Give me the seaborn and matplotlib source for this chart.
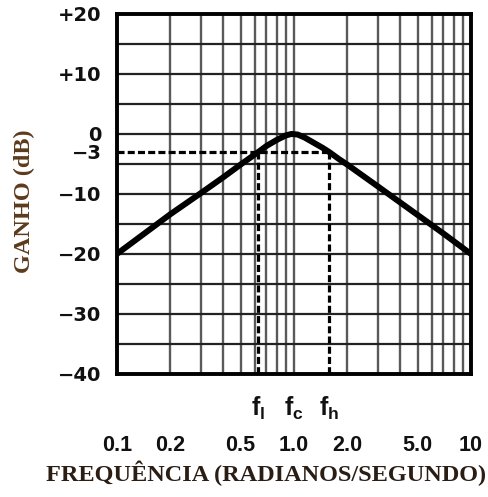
import numpy as np
import pandas as pd
import matplotlib
matplotlib.use("Agg")
import matplotlib.pyplot as plt
import seaborn as sns

# ---- data ----
freq = [0.1, 0.2, 0.3, 0.4, 0.5, 0.63, 0.7, 0.8, 0.9, 0.97, 1.05, 1.15, 1.3, 1.45, 1.58, 1.8, 2.0, 3.0, 5.0, 7.0, 10.0]
gain = [-20.0, -13.4, -9.8, -7.2, -5.1, -3.0, -2.0, -1.0, -0.25, 0.0, -0.1, -0.6, -1.5, -2.3, -3.0, -4.2, -5.1, -8.8, -13.5, -16.6, -20.0]

f_points = [0.63, 1.0, 1.58]
f_names = ["l", "c", "h"]
cut_db = -3

yticks = [20, 10, 0, -3, -10, -20, -30, -40]
ytick_labels = ["+20", "+10", "0", "\u22123", "\u221210", "\u221220", "\u221230", "\u221240"]
xticks = [0.1, 0.2, 0.5, 1.0, 2.0, 5.0, 10]
xtick_labels = ["0.1", "0.2", "0.5", "1.0", "2.0", "5.0", "10"]
hgrid = [-35, -30, -25, -20, -15, -10, -5, 0, 5, 10, 15]
vgrid = [0.2, 0.3, 0.4, 0.5, 0.6, 0.7, 0.8, 0.9, 1, 2, 3, 4, 5, 6, 7, 8, 9]

sns.set_theme(style="white")
plt.rcParams["font.family"] = ["Liberation Sans", "DejaVu Sans"]
plt.rcParams["mathtext.fontset"] = "custom"
plt.rcParams["mathtext.rm"] = "Liberation Sans:bold"
plt.rcParams["mathtext.bf"] = "Liberation Sans:bold"
plt.rcParams["mathtext.it"] = "Liberation Sans:bold"

fig = plt.figure(figsize=(4.89, 4.97), dpi=100)
ax = fig.add_axes([0.239, 0.2475, 0.724, 0.7245])

for v in vgrid:
    ax.axvline(v, color="#5a5a5a", lw=1.7, zorder=1)
for h in hgrid:
    ax.axhline(h, color="#222222", lw=1.6, zorder=1)

df = pd.DataFrame({"freq": freq, "gain": gain})
sns.lineplot(data=df, x="freq", y="gain", color="black", lw=4.3, ax=ax, zorder=4,
             solid_joinstyle="round", solid_capstyle="butt")

# -3 dB dashed guides
ax.plot([0.1, f_points[2]], [cut_db, cut_db], color="black", lw=2.3, ls=(0, (2.2, 1.0)), zorder=3)
for fp in (f_points[0], f_points[2]):
    ax.plot([fp, fp], [cut_db, -40], color="black", lw=2.3, ls=(0, (2.2, 1.0)), zorder=3)

ax.set_xscale("log")
ax.set_xlim(0.1, 10)
ax.set_ylim(-40, 20)
ax.set_xticks(xticks)
ax.set_xticklabels(xtick_labels)
ax.minorticks_off()
ax.set_yticks(yticks)
ax.set_yticklabels(ytick_labels)
ax.set_xlabel("")
ax.set_ylabel("")
ax.tick_params(axis="both", length=0)
ax.tick_params(axis="y", pad=11)
ax.tick_params(axis="x", pad=44)
for lab in ax.get_yticklabels():
    lab.set_fontweight("bold")
    lab.set_color("#111111")
    lab.set_fontfamily(["DejaVu Sans"])
    lab.set_fontsize(14)
for lab in ax.get_xticklabels():
    lab.set_fontweight("bold")
    lab.set_color("#111111")
    lab.set_fontsize(15.5)

for s in ax.spines.values():
    s.set_visible(True)
    s.set_color("black")
    s.set_linewidth(2.8)

trans = matplotlib.transforms.blended_transform_factory(ax.transData, ax.transAxes)
for fp, nm in zip(f_points, f_names):
    ax.text(fp, -0.095, r"$\mathbf{f_{%s}}$" % nm, transform=trans, ha="center", va="center",
            fontsize=18, color="#111111")

fig.text(0.544, 0.048, "FREQUÊNCIA (RADIANOS/SEGUNDO)", family=["Liberation Serif", "DejaVu Serif"],
         fontweight="bold", fontsize=17.5, color="#2a1d14", ha="center", va="center")
fig.text(0.051, 0.596, "GANHO (dB)", family=["Liberation Serif", "DejaVu Serif"], rotation=90,
         fontweight="bold", fontsize=17.5, color="#5c3b1c", ha="center", va="center")

fig.savefig("out.png", dpi=100)
